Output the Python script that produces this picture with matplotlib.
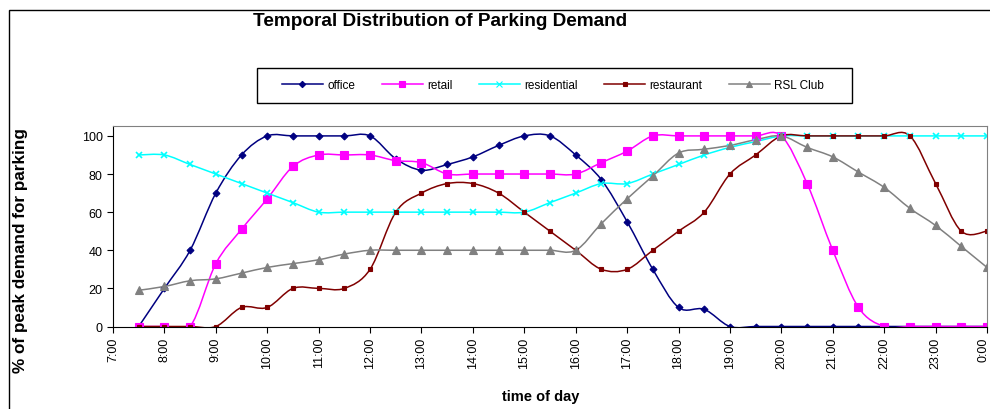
import numpy as np
import matplotlib
matplotlib.use("Agg")
import matplotlib.pyplot as plt
import matplotlib.transforms as mtransforms
from matplotlib.path import Path
from matplotlib.patches import PathPatch, Rectangle
from matplotlib.lines import Line2D

plt.rcParams['font.family'] = ['Liberation Sans', 'DejaVu Sans']

# half-hour readings, 7:30 .. 24:00
hours = np.arange(7.5, 24.01, 0.5)

office = [0, 20, 40, 70, 90, 100, 100, 100, 100, 100,
          88, 82, 85, 89, 95, 100, 100, 90, 77, 55,
          30, 10, 9, 0, 0, 0, 0, 0, 0, 0, 0, 0, 0, 0]
retail = [0, 0, 0, 33, 51, 67, 84, 90, 90, 90,
          87, 86, 80, 80, 80, 80, 80, 80, 86, 92,
          100, 100, 100, 100, 100, 100, 75, 40, 10, 0, 0, 0, 0, 0]
residential = [90, 90, 85, 80, 75, 70, 65, 60, 60, 60,
               60, 60, 60, 60, 60, 60, 65, 70, 75, 75,
               80, 85, 90, 94, 97, 100, 100, 100, 100, 100, 100, 100, 100, 100]
restaurant = [0, 0, 0, 0, 10, 10, 20, 20, 20, 30,
              60, 70, 75, 75, 70, 60, 50, 40, 30, 30,
              40, 50, 60, 80, 90, 100, 100, 100, 100, 100, 100, 75, 50, 50]
rsl_club = [19, 21, 24, 25, 28, 31, 33, 35, 38, 40,
            40, 40, 40, 40, 40, 40, 40, 40, 54, 67,
            79, 91, 93, 95, 98, 100, 94, 89, 81, 73, 62, 53, 42, 31]

labels = ['office', 'retail', 'residential', 'restaurant', 'RSL Club']
series = [office, retail, residential, restaurant, rsl_club]
colors = ['#000080', '#FF00FF', '#00FFFF', '#800000', '#808080']
markers = ['D', 's', 'x', 's', '^']
msizes = [3.5, 6, 5, 3.5, 6]
leg_msizes = [3.2, 5, 4, 2.5, 4]

tick_hours = list(range(7, 25))
tick_labels = [f"{h % 24}:00" for h in tick_hours]


def smooth_path(x, y):
    """Excel-style smoothed line (Catmull-Rom as cubic bezier)"""
    pts = np.column_stack([x, y]).astype(float)
    ext = np.vstack([pts[0], pts, pts[-1]])
    verts = [pts[0]]
    codes = [Path.MOVETO]
    for i in range(len(pts) - 1):
        p0, p1, p2, p3 = ext[i], ext[i + 1], ext[i + 2], ext[i + 3]
        verts += [p1 + (p2 - p0) / 6, p2 - (p3 - p1) / 6, p2]
        codes += [Path.CURVE4] * 3
    return Path(verts, codes)


fig = plt.figure(figsize=(9.9, 4.1), dpi=100)
ax = fig.add_axes([113 / 990, 1 - 327.5 / 410, 874 / 990, 200.5 / 410])

handles = []
for vals, lab, c, m, ms, lms in zip(series, labels, colors, markers, msizes, leg_msizes):
    ax.add_patch(PathPatch(smooth_path(hours, vals), fill=False, edgecolor=c, lw=1.1))
    ax.plot(hours, vals, linestyle='none', marker=m, ms=ms, color=c,
            markeredgecolor=c, mew=1.2 if m == 'x' else 0.8)
    handles.append(Line2D([], [], color=c, marker=m, ms=lms, lw=1.1, mew=0.8))

ax.set_xlim(7, 24)
ax.set_ylim(0, 105.2)
ax.set_xticks(tick_hours)
ax.set_xticklabels(tick_labels, rotation=90, fontsize=9)
ax.set_yticks([0, 20, 40, 60, 80, 100])
ax.tick_params(axis='y', labelsize=9, length=4, direction='out')
ax.tick_params(axis='x', length=4, direction='out')

# last label sits on the figure edge, pull it in a little so it stays readable
last = ax.get_xticklabels()[-1]
last.set_transform(last.get_transform() +
                   mtransforms.ScaledTranslation(-4 / 100, 0, fig.dpi_scale_trans))

for s in ['top', 'right']:
    ax.spines[s].set_color('#808080')
for s in ['left', 'bottom']:
    ax.spines[s].set_color('black')

fig.text(440.5 / 990, 1 - 22 / 410, 'Temporal Distribution of Parking Demand',
         ha='center', va='center', fontsize=13.7, fontweight='bold')
fig.text(541 / 990, 1 - 397 / 410, 'time of day', ha='center', va='center',
         fontsize=10.5, fontweight='bold')
fig.text(20.5 / 990, 1 - 250.5 / 410, '% of peak demand for parking', ha='center', va='center',
         rotation=90, fontsize=12.3, fontweight='bold')

# legend entries without frame, box drawn separately
fig.legend(handles, labels, loc='center left',
           bbox_to_anchor=(282 / 990, 1 - 86 / 410),
           ncol=5, fontsize=8.5, handlelength=3.47, handletextpad=0.38,
           columnspacing=2.23, frameon=False, borderpad=0, borderaxespad=0)
fig.patches.append(Rectangle((257 / 990, 1 - 104 / 410), 595 / 990, 35 / 410,
                             transform=fig.transFigure, fill=False,
                             edgecolor='black', lw=1))

# outer chart-area border (cut off on the right and bottom)
fig.patches.append(Rectangle((9 / 990, -0.1), 2, 1.1 - 11 / 410, transform=fig.transFigure,
                             fill=False, edgecolor='black', lw=1))

fig.savefig('out.png', dpi=100)
plt.close(fig)
